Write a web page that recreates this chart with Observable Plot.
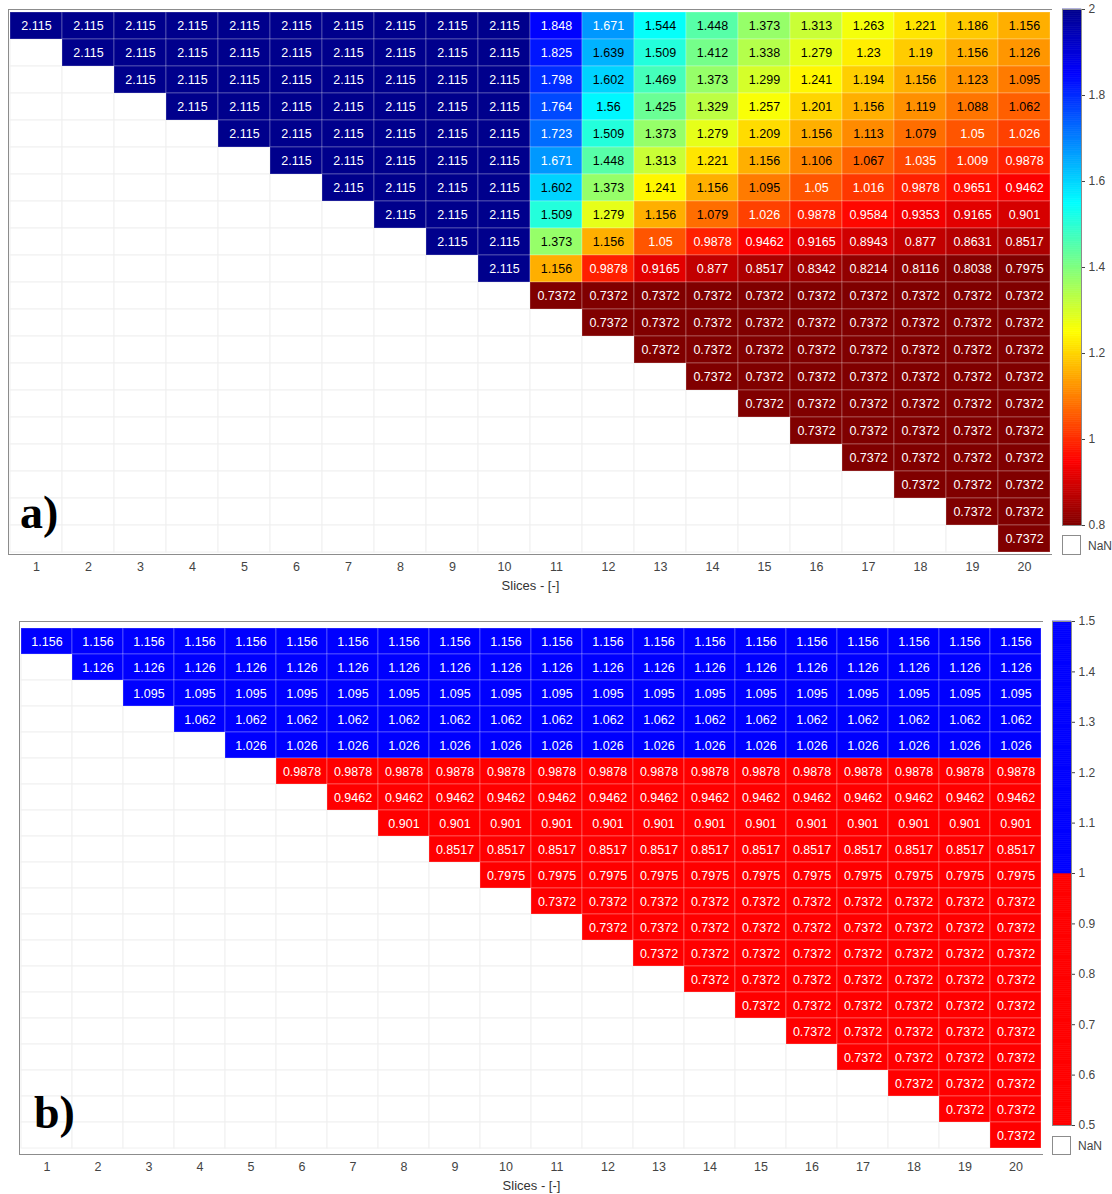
<!DOCTYPE html>
<html><head><meta charset="utf-8">
<script src="https://cdn.jsdelivr.net/npm/d3@7"></script>
<script src="https://cdn.jsdelivr.net/npm/@observablehq/plot@0.6"></script>
<style>
body{margin:0;background:#fff;font-family:"Liberation Sans",Arial,sans-serif;}
#root{position:relative;width:1112px;height:1194px;overflow:hidden;background:#fff;}
#root svg{position:absolute;}
.nanbox{position:absolute;border:1px solid #8c8c8c;background:#fff;box-sizing:border-box;}
.nanlbl{position:absolute;font-size:12px;color:#444;line-height:1;}
.panel{position:absolute;font-family:"Liberation Serif","Times New Roman",serif;font-weight:bold;font-size:46px;color:#000;line-height:1;}
</style></head><body><div id="root"></div>
<script>
// ---------- data ----------
const slices = d3.range(1, 21);                 // x categories (columns) and rows
// Panel a): rows 1..10 hold 2.115 in columns r..10, then these values in columns 11..20
const aUpperLeftValue = 2.115;
const aRightBlock = [
  [1.848, 1.671, 1.544, 1.448, 1.373, 1.313, 1.263, 1.221, 1.186, 1.156],
  [1.825, 1.639, 1.509, 1.412, 1.338, 1.279, 1.23, 1.19, 1.156, 1.126],
  [1.798, 1.602, 1.469, 1.373, 1.299, 1.241, 1.194, 1.156, 1.123, 1.095],
  [1.764, 1.56, 1.425, 1.329, 1.257, 1.201, 1.156, 1.119, 1.088, 1.062],
  [1.723, 1.509, 1.373, 1.279, 1.209, 1.156, 1.113, 1.079, 1.05, 1.026],
  [1.671, 1.448, 1.313, 1.221, 1.156, 1.106, 1.067, 1.035, 1.009, 0.9878],
  [1.602, 1.373, 1.241, 1.156, 1.095, 1.05, 1.016, 0.9878, 0.9651, 0.9462],
  [1.509, 1.279, 1.156, 1.079, 1.026, 0.9878, 0.9584, 0.9353, 0.9165, 0.901],
  [1.373, 1.156, 1.05, 0.9878, 0.9462, 0.9165, 0.8943, 0.877, 0.8631, 0.8517],
  [1.156, 0.9878, 0.9165, 0.877, 0.8517, 0.8342, 0.8214, 0.8116, 0.8038, 0.7975]
];
const aLowerRowsValue = 0.7372;                // rows 11..20, columns r..20
// Panel b): each row r holds one value in columns r..20
const bRowValues = [1.156, 1.126, 1.095, 1.062, 1.026, 0.9878, 0.9462, 0.901, 0.8517, 0.7975,
  0.7372, 0.7372, 0.7372, 0.7372, 0.7372, 0.7372, 0.7372, 0.7372, 0.7372, 0.7372];
// colour bars
const aColorDomain = [0.8, 2];
const aTicks = [0.8, 1, 1.2, 1.4, 1.6, 1.8, 2];
const bColorDomain = [0.5, 1.5];
const bTicks = [0.5, 0.6, 0.7, 0.8, 0.9, 1, 1.1, 1.2, 1.3, 1.4, 1.5];
const bThreshold = 1;
const xLabel = "Slices - [-]";

// ---------- build tables ----------
function valueA(r, c) {
  if (c < r) return NaN;
  if (r <= 10) return c <= 10 ? aUpperLeftValue : aRightBlock[r - 1][c - 11];
  return aLowerRowsValue;
}
const cellsA = [], cellsB = [];
for (const r of slices) for (const c of slices) {
  cellsA.push({r, c, v: valueA(r, c)});
  cellsB.push({r, c, v: c >= r ? bRowValues[r - 1] : NaN});
}

// jet (reversed: low = dark red, high = dark blue)
const jetStops = [0, 1/8, 3/8, 5/8, 7/8, 1];
const jetColors = ["#800000", "#ff0000", "#ffff00", "#00ffff", "#0000ff", "#00008c"];
const jetDomain = jetStops.map(t => aColorDomain[0] + t * (aColorDomain[1] - aColorDomain[0]));
const jet = d3.scaleLinear().domain(jetDomain).range(jetColors).clamp(true);
const colorA = {type: "linear", domain: jetDomain, range: jetColors, clamp: true};
const colorB = {type: "threshold", domain: [bThreshold], range: ["#ff0000", "#0000ff"]};
function textColorA(v) {
  const c = d3.rgb(jet(v));
  const l = (0.299 * c.r + 0.587 * c.g + 0.114 * c.b) / 255;
  return l > 0.5 ? "#000" : "#fff";
}

const root = document.getElementById("root");
const fmt = v => String(v);

function heatmap({cells, color, textFill, width, height, marginLeft, marginTop, marginBottom}) {
  return Plot.plot({
    width, height, marginLeft, marginRight: 0, marginTop, marginBottom,
    style: {fontFamily: "Liberation Sans, Arial, sans-serif", fontSize: "12px", background: "transparent"},
    x: {type: "band", domain: slices, padding: 0},
    y: {type: "band", domain: slices, padding: 0, axis: null},
    color,
    marks: [
      Plot.cell(cells.filter(d => isNaN(d.v)), {x: "c", y: "r", fill: "white", stroke: "#f0f0f0", strokeWidth: 1}),
      Plot.cell(cells.filter(d => !isNaN(d.v)), {x: "c", y: "r", fill: "v", stroke: "white", strokeOpacity: 0.25, strokeWidth: 1}),
      Plot.text(cells.filter(d => !isNaN(d.v)), {x: "c", y: "r", text: d => fmt(d.v), fill: textFill, fontSize: 12.5}),
      Plot.frame({stroke: "#8c8c8c"}),
      Plot.axisX({tickSize: 0, tickPadding: 8, fontSize: 12.5, fill: "#444", label: null}),
      Plot.axisX({tickSize: 0, ticks: [], fontSize: 13, fill: "#333", label: xLabel,
        labelAnchor: "center", labelArrow: "none", labelOffset: 35})
    ]
  });
}

function colorbar({domain, ticks, color, height, marginTop, marginBottom}) {
  const n = 240, step = (domain[1] - domain[0]) / n;
  const bands = d3.range(n).map(i => ({y1: domain[0] + i * step, y2: domain[0] + (i + 1) * step, v: domain[0] + (i + 0.5) * step}));
  return Plot.plot({
    width: 52, height, marginLeft: 0, marginRight: 33, marginTop, marginBottom,
    style: {fontFamily: "Liberation Sans, Arial, sans-serif", fontSize: "12px", background: "transparent"},
    y: {domain},
    color,
    marks: [
      Plot.rect(bands, {y1: "y1", y2: "y2", fill: "v", stroke: "v", strokeWidth: 0.6}),
      Plot.frame({stroke: "#8c8c8c"}),
      Plot.axisY(ticks, {anchor: "right", tickSize: 3, tickPadding: 4, tickFormat: fmt, fontSize: 12, fill: "#444", stroke: "#444", label: null})
    ]
  });
}

function place(el, left, top) { el.style.left = left + "px"; el.style.top = top + "px"; root.appendChild(el); }
function div(cls, text, left, top, w, h) {
  const d = document.createElement("div"); d.className = cls; if (text) d.textContent = text;
  d.style.left = left + "px"; d.style.top = top + "px";
  if (w) d.style.width = w + "px"; if (h) d.style.height = h + "px";
  root.appendChild(d); return d;
}

// Panel a
place(heatmap({cells: cellsA, color: colorA, textFill: d => textColorA(d.v), width: 1052, height: 600, marginLeft: 8, marginTop: 9, marginBottom: 46}), 0, 0);
place(colorbar({domain: aColorDomain, ticks: aTicks, color: colorA, height: 560, marginTop: 9, marginBottom: 35}), 1062, 0);
div("nanbox", "", 1062, 535, 19, 20);
div("nanlbl", "NaN", 1088, 540);
div("panel", "a)", 20, 490);

// Panel b
place(heatmap({cells: cellsB, color: colorB, textFill: "white", width: 1043, height: 594, marginLeft: 19, marginTop: 21, marginBottom: 40}), 0, 600);
place(colorbar({domain: bColorDomain, ticks: bTicks, color: colorB, height: 560, marginTop: 21, marginBottom: 35}), 1052, 600);
div("nanbox", "", 1052, 1136, 19, 19);
div("nanlbl", "NaN", 1078, 1140);
div("panel", "b)", 34, 1090);
</script></body></html>
